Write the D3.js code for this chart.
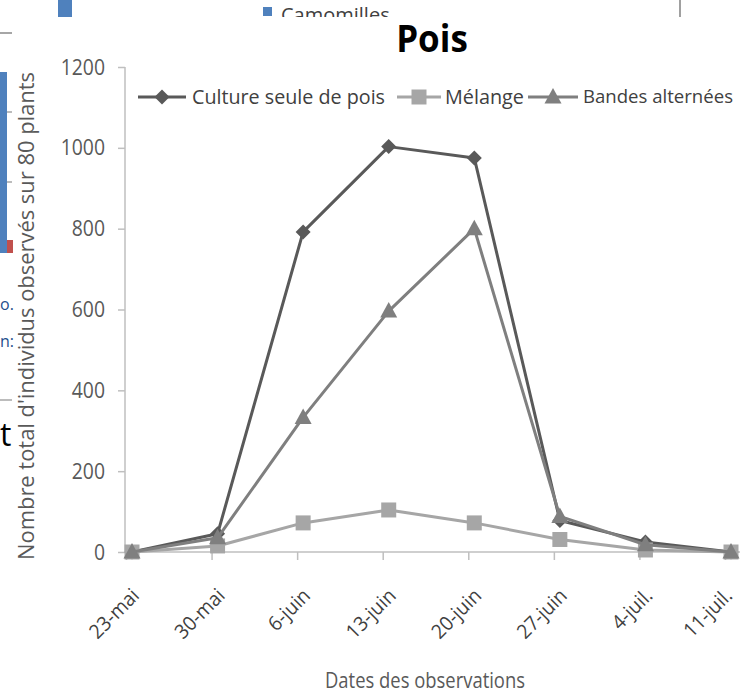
<!DOCTYPE html>
<html>
<head>
<meta charset="utf-8">
<script src="https://cdn.jsdelivr.net/npm/d3@7"></script>
<style>
  html, body { margin: 0; padding: 0; background: #fff; }
  svg { display: block; }
  text { font-family: "Open Sans", sans-serif; }
</style>
</head>
<body>
<svg id="chart" width="740" height="696"></svg>
<script>
const categories = ["23-mai", "30-mai", "6-juin", "13-juin", "20-juin", "27-juin", "4-juil.", "11-juil."];
const cultureSeule = [0, 45, 792, 1003, 975, 78, 25, 0];
const melange = [0, 15, 72, 104, 72, 31, 5, 0];
const bandesAlternees = [0, 35, 333, 596, 800, 88, 18, 0];
const yTicks = [0, 200, 400, 600, 800, 1000, 1200];
const seriesNames = ["Culture seule de pois", "Mélange", "Bandes alternées"];

const series = [
  { name: seriesNames[0], values: cultureSeule, color: "#595959", marker: "diamond" },
  { name: seriesNames[1], values: melange, color: "#a6a6a6", marker: "square" },
  { name: seriesNames[2], values: bandesAlternees, color: "#7f7f7f", marker: "triangle" }
];

const svg = d3.select("#chart");

function condense(sel, factor) {
  sel.each(function () {
    const w = this.getComputedTextLength();
    d3.select(this).attr("textLength", w * factor).attr("lengthAdjust", "spacingAndGlyphs");
  });
}
function fitWidth(sel, width) {
  sel.attr("textLength", width).attr("lengthAdjust", "spacingAndGlyphs");
}

// ---- fragments of a neighbouring chart (background) ----
const frag = svg.append("g");
frag.append("rect").attr("x", 58).attr("y", 0).attr("width", 14).attr("height", 17).attr("fill", "#4f81bd");
frag.append("rect").attr("x", 263).attr("y", 7).attr("width", 9).attr("height", 9).attr("fill", "#4f81bd");
frag.append("text").attr("x", 281).attr("y", 22).attr("font-size", 20).attr("fill", "#404040").text("Camomilles");
frag.append("line").attr("x1", 680).attr("x2", 680).attr("y1", 0).attr("y2", 17).attr("stroke", "#a0a0a0").attr("stroke-width", 2);

// main chart white background
svg.append("rect").attr("x", 12).attr("y", 17).attr("width", 728).attr("height", 679).attr("fill", "#fff");

const left = svg.append("g");
left.append("line").attr("x1", 0).attr("x2", 12).attr("y1", 33).attr("y2", 33).attr("stroke", "#a6a6a6").attr("stroke-width", 2);
left.append("rect").attr("x", 0).attr("y", 72).attr("width", 7).attr("height", 181).attr("fill", "#4f81bd");
left.append("rect").attr("x", 7).attr("y", 240).attr("width", 6).attr("height", 13).attr("fill", "#c0504d");
left.append("line").attr("x1", 7).attr("x2", 12).attr("y1", 112).attr("y2", 112).attr("stroke", "#a6a6a6").attr("stroke-width", 1.5);
left.append("line").attr("x1", 7).attr("x2", 12).attr("y1", 182).attr("y2", 182).attr("stroke", "#a6a6a6").attr("stroke-width", 1.5);
left.append("text").attr("x", 0).attr("y", 310).attr("font-size", 16).attr("fill", "#1f4e8c").text("o.");
left.append("text").attr("x", 0).attr("y", 347).attr("font-size", 16).attr("fill", "#1f4e8c").text("n:");
left.append("line").attr("x1", 0).attr("x2", 12).attr("y1", 400).attr("y2", 400).attr("stroke", "#a6a6a6").attr("stroke-width", 1.5);
left.append("text").attr("x", 0).attr("y", 446).attr("font-size", 32).attr("fill", "#000").text("t");

// ---- scales ----
const x = d3.scalePoint().domain(categories).range([132, 731]);
const y = d3.scaleLinear().domain([0, 1200]).range([552, 67]);
const axisX0 = 125;

// y axis
const yAxis = svg.append("g").attr("transform", `translate(${axisX0},0)`)
  .call(d3.axisLeft(y).tickValues(yTicks).tickSize(7).tickPadding(13).tickFormat(d3.format("d")));
yAxis.select(".domain").attr("stroke", "#bfbfbf").attr("stroke-width", 1.5).attr("d", `M0,${y(1200)}V${y(0)}`);
yAxis.selectAll(".tick line").attr("stroke", "#bfbfbf").attr("stroke-width", 1.5);
yAxis.selectAll(".tick text").attr("font-size", 22).attr("fill", "#595959").style("font-family", '"Open Sans", sans-serif');
condense(yAxis.selectAll(".tick text"), 0.88);

// x axis
const xAxis = svg.append("g").attr("transform", `translate(0,${y(0)})`)
  .call(d3.axisBottom(x).tickSize(8).tickPadding(6));
xAxis.select(".domain").attr("stroke", "#bfbfbf").attr("stroke-width", 1.5).attr("d", `M${axisX0},0H740`);
xAxis.selectAll(".tick line").attr("stroke", "#bfbfbf").attr("stroke-width", 1.5).attr("transform", "translate(-6,0)");
xAxis.selectAll(".tick text")
  .attr("font-size", 20).attr("fill", "#404040")
  .style("font-family", '"Open Sans", sans-serif')
  .attr("text-anchor", "end")
  .attr("dy", "0.35em")
  .attr("transform", (d, i) => i === categories.length - 1 ? "translate(-3,40) rotate(-45)" : "translate(3,40) rotate(-45)")
  .attr("y", 0).attr("x", 0);
condense(xAxis.selectAll(".tick text"), 0.95);

// ---- markers ----
function markerPath(type) {
  if (type === "diamond") return "M0,-7.5L7.5,0L0,7.5L-7.5,0Z";
  if (type === "square") return "M-7.5,-7.5H7.5V7.5H-7.5Z";
  return "M0,-9L8.5,6.5H-8.5Z";
}

const line = d3.line().x((d, i) => x(categories[i])).y(d => y(d));

series.forEach(s => {
  const g = svg.append("g");
  g.append("path").datum(s.values).attr("d", line)
    .attr("fill", "none").attr("stroke", s.color).attr("stroke-width", 3).attr("stroke-linejoin", "round");
  g.selectAll("path.m").data(s.values).enter().append("path").attr("class", "m")
    .attr("d", markerPath(s.marker))
    .attr("transform", (d, i) => `translate(${x(categories[i])},${y(d)})`)
    .attr("fill", s.color);
});

// ---- legend ----
const legendY = 97;
const legendItems = [
  { s: series[0], lx1: 138, lx2: 186, tx: 192, w: 193, fs: 20 },
  { s: series[1], lx1: 397, lx2: 441, tx: 445, w: 79, fs: 20 },
  { s: series[2], lx1: 528, lx2: 578, tx: 583, w: 150, fs: 18.5 }
];
const lg = svg.append("g");
legendItems.forEach(it => {
  lg.append("line").attr("x1", it.lx1).attr("x2", it.lx2).attr("y1", legendY).attr("y2", legendY)
    .attr("stroke", it.s.color).attr("stroke-width", 3);
  lg.append("path").attr("d", markerPath(it.s.marker))
    .attr("transform", `translate(${(it.lx1 + it.lx2) / 2},${legendY})`).attr("fill", it.s.color);
  const t = lg.append("text").attr("x", it.tx).attr("y", legendY).attr("dy", "0.35em")
    .attr("font-size", it.fs).attr("fill", "#404040").text(it.s.name);
  fitWidth(t, it.w);
});

// ---- titles ----
svg.append("text").attr("x", 432).attr("y", 52).attr("text-anchor", "middle")
  .attr("font-size", 38).attr("font-weight", "bold").attr("fill", "#000").text("Pois")
  .call(s => condense(s, 0.92));

svg.append("text").attr("transform", "translate(34,316) rotate(-90)").attr("text-anchor", "middle")
  .attr("font-size", 21).attr("fill", "#595959").text("Nombre total d'individus observés sur 80 plants")
  .call(s => fitWidth(s, 488));

svg.append("text").attr("x", 425).attr("y", 688).attr("text-anchor", "middle")
  .attr("font-size", 21).attr("fill", "#595959").text("Dates des observations")
  .call(s => fitWidth(s, 200));
</script>
</body>
</html>
